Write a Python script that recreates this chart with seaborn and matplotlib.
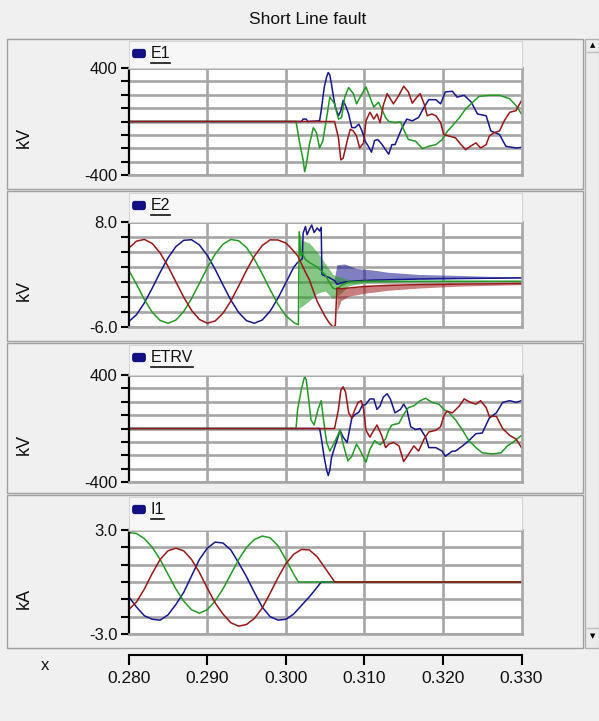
import numpy as np
import pandas as pd
import matplotlib
matplotlib.use("Agg")
import matplotlib.pyplot as plt
import seaborn as sns
from matplotlib.patches import Rectangle, FancyBboxPatch
from matplotlib.lines import Line2D

plt.rcParams['font.family'] = ['Liberation Sans', 'DejaVu Sans']

# ---------------- data ----------------
title = "Short Line fault"
x_ticks = [0.280, 0.290, 0.300, 0.310, 0.320, 0.330]
x_tick_labels = ["0.280", "0.290", "0.300", "0.310", "0.320", "0.330"]
panel_names = ["E1", "E2", "ETRV", "I1"]
panel_units = ["kV", "kV", "kV", "kA"]

pre_t = [0.280, 0.281, 0.282, 0.283, 0.284, 0.285, 0.286, 0.287, 0.288, 0.289, 0.290,
         0.291, 0.292, 0.293, 0.294, 0.295, 0.296, 0.297, 0.298, 0.299, 0.300]

# ---- E1 (kV)
e1_blue_t = [0.280, 0.3020, 0.3022, 0.3026, 0.3028, 0.3043, 0.3045, 0.3049, 0.3052, 0.3054, 0.3056,
             0.3058, 0.3060, 0.3063, 0.3067, 0.3070, 0.3073, 0.3076, 0.3080, 0.3084, 0.3088, 0.3093,
             0.3097, 0.3101, 0.3105, 0.3109, 0.3113, 0.3117, 0.3122, 0.3127, 0.3131, 0.3135, 0.3139,
             0.3148, 0.3154, 0.3161, 0.3169, 0.3176, 0.3182, 0.3191, 0.3197, 0.3203, 0.3212, 0.3218,
             0.3227, 0.3236, 0.3244, 0.3255, 0.3261, 0.3272, 0.3280, 0.3293, 0.3300]
e1_blue_v = [0, 0, 18, 18, 0, 5, 81, 259, 335, 366, 348,
             284, 208, 107, 43, 81, 157, 119, 56, -46, -46, -20,
             -71, -147, -185, -229, -142, -135, -168, -211, -244, -173, -173,
             -46, 18, 5, 30, 107, 163, 163, 132, 221, 226, 183,
             196, 145, 56, 43, -71, -97, -185, -198, -193]
e1_green_t = [0.280, 0.3013, 0.3018, 0.3022, 0.3024, 0.3026, 0.3030, 0.3035, 0.3039, 0.3043, 0.3047,
              0.3052, 0.3056, 0.3062, 0.3067, 0.3071, 0.3075, 0.3080, 0.3086, 0.3090, 0.3097, 0.3102,
              0.3107, 0.3112, 0.3118, 0.3122, 0.3127, 0.3131, 0.3139, 0.3146, 0.3152, 0.3156, 0.3165,
              0.3174, 0.3182, 0.3191, 0.3199, 0.3206, 0.3212, 0.3221, 0.3229, 0.3238, 0.3246, 0.3259,
              0.3272, 0.3285, 0.3293, 0.3300]
e1_green_v = [0, 0, -173, -287, -376, -325, -173, -46, -84, -198, -147,
              30, 183, 132, 18, 30, 183, 254, 208, 132, 208, 259,
              183, 107, 145, 94, 30, 0, -8, -3, -84, -135, -147,
              -203, -185, -173, -135, -71, -33, 30, 94, 145, 188, 196,
              196, 170, 119, 56]
e1_red_t = [0.280, 0.3062, 0.3067, 0.3070, 0.3073, 0.3078, 0.3082, 0.3086, 0.3090, 0.3094, 0.3099,
            0.3102, 0.3107, 0.3112, 0.3116, 0.3120, 0.3124, 0.3129, 0.3133, 0.3137, 0.3144, 0.3150,
            0.3156, 0.3161, 0.3167, 0.3171, 0.3176, 0.3180, 0.3186, 0.3191, 0.3197, 0.3201, 0.3208,
            0.3216, 0.3223, 0.3229, 0.3235, 0.3242, 0.3248, 0.3255, 0.3259, 0.3265, 0.3272, 0.3278,
            0.3285, 0.3293, 0.3300]
e1_red_v = [0, 0, -122, -287, -274, -147, -58, -71, -109, -198, -160,
            5, 69, 18, 56, -8, 119, 208, 170, 132, 196, 264,
            221, 137, 183, 208, 132, 43, 56, 43, -8, -97, -109,
            -122, -173, -211, -185, -160, -198, -173, -109, -84, -71, 5,
            69, 81, 157]

# ---- E2 (kV)
e2_blue_t = pre_t + [0.301, 0.3015, 0.3021, 0.3022, 0.3025, 0.3027, 0.3030, 0.3033, 0.3036, 0.3040,
                     0.3043, 0.3045, 0.3046, 0.3050, 0.3055, 0.3060, 0.3062, 0.3065, 0.3075, 0.3090,
                     0.3110, 0.3130, 0.3170, 0.3210, 0.3260, 0.3300]
e2_blue_v = [-5.29, -4.35, -2.78, -0.81, 1.28, 3.21, 4.71, 5.56, 5.64, 4.94, 3.56,
             1.70, -0.39, -2.41, -4.07, -5.16, -5.5, -5.06, -3.89, -2.16, -0.11] + \
            [1.96, 2.6, 3.1, 6.5, 7.4, 6.3, 7.0, 7.6, 6.6, 7.2,
             6.8, 7.3, 1.0, 0.8, 0.6, 0.3, 0.2, -0.3, 0.0, 0.15,
             0.25, 0.3, 0.4, 0.45, 0.5, 0.55]
e2_green_t = pre_t + [0.301, 0.3016, 0.3017, 0.3019, 0.3020, 0.3025, 0.3030, 0.3040, 0.3050, 0.3055,
                      0.3060, 0.3065, 0.3070, 0.3080, 0.3100, 0.3200, 0.3300]
e2_green_v = [1.6, -0.32, -2.35, -4.03, -5.13, -5.5, -5.08, -3.93, -2.22, -0.18, 1.9,
              3.72, 5.04, 5.67, 5.5, 4.59, 3.04, 1.08, -1.02, -2.96, -4.5] + \
             [-5.4, -5.7, 6.7, 3.5, 4.0, 3.0, 2.6, 2.0, 1.0, 0.0,
              -0.8, -1.0, -0.5, 0.0, 0.1, 0.1, 0.1]
e2_red_t = pre_t + [0.3005, 0.301, 0.3015, 0.302, 0.3025, 0.303, 0.3035, 0.304, 0.3045, 0.305,
                    0.3055, 0.306, 0.3063, 0.3065, 0.307, 0.308, 0.310, 0.313, 0.317, 0.322,
                    0.326, 0.330]
e2_red_v = [4.5, 5.45, 5.68, 5.13, 3.88, 2.1, 0.03, -2.02, -3.78, -5.0, -5.49,
            -5.2, -4.17, -2.54, -0.53, 1.56, 3.45, 4.87, 5.62, 5.6, 5.2] + \
           [4.7, 4.1, 3.5, 2.4, 1.3, 0.3, -1.2, -2.6, -3.6, -4.6,
            -5.4, -6.0, -5.8, -0.8, -0.9, -0.8, -0.6, -0.45, -0.35, -0.28,
            -0.25, -0.2]
# high-frequency ringing envelopes after the fault
e2_blue_band_t = [0.3062, 0.3065, 0.3075, 0.309, 0.311, 0.313, 0.317, 0.321, 0.326, 0.330]
e2_blue_band_hi = [0.5, 2.3, 2.4, 1.8, 1.6, 1.3, 1.0, 0.9, 0.75, 0.7]
e2_blue_band_lo = [0.2, -0.3, 0.0, 0.15, 0.25, 0.3, 0.4, 0.45, 0.5, 0.55]
e2_green_band_t = [0.3017, 0.302, 0.303, 0.304, 0.305, 0.306, 0.307, 0.308, 0.310, 0.315, 0.330]
e2_green_band_hi = [6.7, 5.6, 5.2, 4.0, 2.5, 1.0, 0.6, 0.35, 0.25, 0.2, 0.15]
e2_green_band_lo = [-3.5, -3.3, -2.5, -1.5, -1.2, -2.2, -1.5, -0.5, -0.1, 0.0, 0.05]
e2_red_band_t = [0.3065, 0.307, 0.308, 0.310, 0.313, 0.317, 0.322, 0.326, 0.330]
e2_red_band_hi = [-0.8, -0.9, -0.8, -0.6, -0.45, -0.35, -0.28, -0.25, -0.2]
e2_red_band_lo = [-4.0, -2.5, -1.9, -1.5, -1.1, -0.8, -0.55, -0.45, -0.35]

# ---- ETRV (kV)
etrv_blue_t = [0.280, 0.3043, 0.3045, 0.3049, 0.3052, 0.3054, 0.3056, 0.3058, 0.3062, 0.3065, 0.3069,
               0.3073, 0.3078, 0.3084, 0.3088, 0.3093, 0.3097, 0.3102, 0.3107, 0.3112, 0.3116, 0.3120,
               0.3124, 0.3129, 0.3133, 0.3139, 0.3146, 0.3150, 0.3154, 0.3159, 0.3165, 0.3171, 0.3178,
               0.3182, 0.3191, 0.3199, 0.3203, 0.3212, 0.3216, 0.3225, 0.3233, 0.3242, 0.3250, 0.3259,
               0.3268, 0.3276, 0.3285, 0.3293, 0.3300]
etrv_blue_v = [0, 0, -65, -221, -312, -351, -312, -221, -143, -91, -13,
               -65, -104, 78, 104, 122, 169, 182, 221, 221, 143, 169,
               234, 260, 221, 117, 143, 182, 143, 13, -8, 0, -65,
               -143, -143, -169, -208, -169, -169, -130, -91, -39, -34, 78,
               117, 195, 208, 195, 208]
etrv_green_t = [0.280, 0.3013, 0.3015, 0.3020, 0.3024, 0.3026, 0.3029, 0.3032, 0.3036, 0.3041, 0.3045,
                0.3048, 0.3052, 0.3056, 0.3062, 0.3069, 0.3073, 0.3079, 0.3084, 0.3090, 0.3094, 0.3102,
                0.3107, 0.3113, 0.3120, 0.3127, 0.3131, 0.3135, 0.3144, 0.3150, 0.3156, 0.3163, 0.3171,
                0.3178, 0.3186, 0.3195, 0.3201, 0.3208, 0.3216, 0.3225, 0.3233, 0.3242, 0.3250, 0.3263,
                0.3274, 0.3282, 0.3289, 0.3297, 0.3300]
etrv_green_v = [0, 0, 143, 299, 390, 364, 221, 65, 26, 143, 208,
                65, -104, -169, -104, -13, -117, -242, -208, -117, -156, -252,
                -156, -91, -122, -78, -13, 26, 39, 104, 156, 169, 208,
                226, 195, 182, 143, 117, 65, -13, -91, -143, -182, -190,
                -182, -130, -104, -65, -52]
etrv_red_t = [0.280, 0.3062, 0.3067, 0.3070, 0.3073, 0.3076, 0.3080, 0.3084, 0.3088, 0.3092, 0.3096,
              0.3099, 0.3102, 0.3107, 0.3112, 0.3116, 0.3122, 0.3127, 0.3131, 0.3137, 0.3144, 0.3150,
              0.3156, 0.3163, 0.3169, 0.3176, 0.3182, 0.3191, 0.3197, 0.3201, 0.3205, 0.3212, 0.3221,
              0.3227, 0.3235, 0.3242, 0.3248, 0.3255, 0.3259, 0.3268, 0.3276, 0.3285, 0.3293, 0.3300]
etrv_red_v = [0, 0, 143, 286, 312, 273, 117, 78, 143, 195, 208,
              143, -13, -65, -13, 26, -52, -143, -117, -104, -130, -247,
              -195, -130, -169, -78, -26, -13, 13, 91, 130, 117, 169,
              221, 195, 182, 208, 156, 91, 91, 0, -52, -78, -143]

# ---- I1 (kA)
i1_blue_t = pre_t + [0.301, 0.302, 0.303, 0.304, 0.3045, 0.330]
i1_blue_v = [-0.85, -1.45, -1.95, -2.15, -2.2, -1.9, -1.3, -0.6, 0.35, 1.3, 1.95,
             2.3, 2.25, 1.85, 1.1, 0.3, -0.6, -1.45, -2.0, -2.2, -2.15] + \
            [-1.85, -1.35, -0.85, -0.3, 0.0, 0.0]
i1_green_t = pre_t + [0.301, 0.3016, 0.330]
i1_green_v = [2.85, 2.8, 2.5, 2.0, 1.3, 0.45, -0.4, -1.1, -1.6, -1.8, -1.6,
              -1.1, -0.4, 0.45, 1.3, 2.0, 2.45, 2.65, 2.55, 2.1, 1.3] + \
             [0.45, 0.0, 0.0]
i1_red_t = pre_t + [0.301, 0.302, 0.303, 0.304, 0.305, 0.306, 0.3062, 0.330]
i1_red_v = [-1.6, -1.15, -0.4, 0.5, 1.3, 1.8, 1.95, 1.8, 1.3, 0.55, -0.35,
            -1.2, -1.85, -2.35, -2.55, -2.45, -2.1, -1.5, -0.65, 0.25, 1.05] + \
           [1.6, 1.88, 1.85, 1.45, 0.8, 0.15, 0.0, 0.0]

# ---------------- styling / layout ----------------
W, H = 599, 721
BG = "#f0f0f0"
GRID = "#a6a6a6"
pal = {"A": "#16168f", "B": "#239a23", "C": "#9a1616"}


def frac_rect(x0, y0, x1, y1):
    return [x0 / W, 1 - y1 / H, (x1 - x0) / W, (y1 - y0) / H]


def long_df(series):
    frames = []
    for ph, t, v in series:
        frames.append(pd.DataFrame({"t": t, "v": v, "phase": ph}))
    return pd.concat(frames, ignore_index=True)


fig = plt.figure(figsize=(W / 100, H / 100), dpi=100, facecolor=BG)

# title
fig.text(308 / W, 1 - 20 / H, title, ha="center", va="center", fontsize=12.5, color="#111111")

# panel boxes
panel_boxes = [(39, 189), (191, 341), (343, 493), (495, 648)]
for (y0, y1) in panel_boxes:
    fig.add_artist(Rectangle((7 / W, 1 - y1 / H), (583 - 7) / W, (y1 - y0) / H,
                             transform=fig.transFigure, facecolor=BG, edgecolor="#a0a0a0",
                             lw=1.0, zorder=0))
# scrollbar
fig.add_artist(Rectangle((585 / W, 1 - 648 / H), 14 / W, (648 - 39) / H, transform=fig.transFigure,
                         facecolor="#ececec", edgecolor="#b0b0b0", lw=1.0, zorder=0))
fig.add_artist(Line2D([585 / W, 599 / W], [1 - 52 / H, 1 - 52 / H], transform=fig.transFigure,
                      color="#c0c0c0", lw=1))
fig.add_artist(Line2D([585 / W, 599 / W], [1 - 628 / H, 1 - 628 / H], transform=fig.transFigure,
                      color="#c0c0c0", lw=1))
fig.text(592.5 / W, 1 - 45 / H, "▲", ha="center", va="center", fontsize=5, family="DejaVu Sans")
fig.text(592.5 / W, 1 - 636 / H, "▼", ha="center", va="center", fontsize=5, family="DejaVu Sans")

PX0, PX1 = 128.7, 521.5
plot_rows = [(68, 175), (222, 327), (375, 482), (530, 634)]
ylims = [(-400, 400, 100, "{:.0f}"), (-6.0, 8.0, 2.0, "{:.1f}"),
         (-400, 400, 100, "{:.0f}"), (-3.0, 3.0, 1.0, "{:.1f}")]

panel_series = [
    [("A", e1_blue_t, e1_blue_v), ("B", e1_green_t, e1_green_v), ("C", e1_red_t, e1_red_v)],
    [("A", e2_blue_t, e2_blue_v), ("B", e2_green_t, e2_green_v), ("C", e2_red_t, e2_red_v)],
    [("A", etrv_blue_t, etrv_blue_v), ("B", etrv_green_t, etrv_green_v), ("C", etrv_red_t, etrv_red_v)],
    [("A", i1_blue_t, i1_blue_v), ("B", i1_green_t, i1_green_v), ("C", i1_red_t, i1_red_v)],
]

fig.canvas.draw()
renderer = fig.canvas.get_renderer()

for i, ((top, bot), (lo, hi, step, fmt)) in enumerate(zip(plot_rows, ylims)):
    # legend tab above the plot
    ptop = panel_boxes[i][0] + 2
    fig.add_artist(Rectangle((PX0 / W, 1 - top / H), (PX1 - PX0) / W, (top - ptop) / H,
                             transform=fig.transFigure, facecolor="#f7f7f7", edgecolor="#d4d4d4",
                             lw=0.8, zorder=0.5))
    ax = fig.add_axes(frac_rect(PX0, top, PX1, bot))
    ax.set_facecolor("white")
    df = long_df(panel_series[i])
    sns.lineplot(data=df, x="t", y="v", hue="phase", palette=pal, hue_order=["A", "B", "C"],
                 estimator=None, sort=False, legend=False, linewidth=1.1, ax=ax)
    if i == 1:
        for ph, bt, bhi, blo in [("A", e2_blue_band_t, e2_blue_band_hi, e2_blue_band_lo),
                                 ("B", e2_green_band_t, e2_green_band_hi, e2_green_band_lo),
                                 ("C", e2_red_band_t, e2_red_band_hi, e2_red_band_lo)]:
            ax.fill_between(bt, blo, bhi, color=pal[ph], alpha=0.55, lw=0)
    ax.set_xlim(x_ticks[0], x_ticks[-1])
    ax.set_ylim(lo, hi)
    ax.set_xticks(x_ticks[1:-1])
    ax.tick_params(axis="x", length=0, labelbottom=False)
    yt = np.arange(lo, hi + step / 2, step)
    ax.set_yticks(yt)
    ax.set_yticklabels([fmt.format(v) if (abs(v - lo) < 1e-9 or abs(v - hi) < 1e-9) else "" for v in yt])
    ax.tick_params(axis="y", direction="out", length=6, width=1.5, color="black",
                   labelsize=12, pad=2, labelcolor="#111111")
    ax.grid(True, color=GRID, lw=1.9)
    ax.set_axisbelow(True)
    for s in ["top", "right", "bottom"]:
        ax.spines[s].set_color(GRID)
        ax.spines[s].set_linewidth(1.9)
    ax.spines["left"].set_color("black")
    ax.spines["left"].set_linewidth(1.6)
    ax.set_xlabel("")
    ax.set_ylabel("")

    # unit label
    fig.text(24 / W, 1 - ((top + bot) / 2 + 16) / H, panel_units[i], rotation=90,
             ha="center", va="center", fontsize=13, color="#111111")
    # legend entry
    ly = panel_boxes[i][0] + 14
    fig.add_artist(FancyBboxPatch((134 / W, 1 - (ly + 3) / H), 10 / W, 5 / H,
                                  boxstyle="round,pad=0.002,rounding_size=0.003",
                                  transform=fig.transFigure, facecolor="#101080", edgecolor="#101080"))
    txt = fig.text(151 / W, 1 - ly / H, panel_names[i], ha="left", va="center", fontsize=11.5,
                   color="#111111")
    bb = txt.get_window_extent(renderer)
    fig.add_artist(Line2D([bb.x0 / W, bb.x1 / W], [1 - (ly + 9.5) / H, 1 - (ly + 9.5) / H],
                          transform=fig.transFigure, color="#111111", lw=1.2))

# bottom x axis
axb = fig.add_axes([PX0 / W, 1 - 654.5 / H, (PX1 - PX0) / W, 0.001])
axb.patch.set_alpha(0)
axb.set_xlim(x_ticks[0], x_ticks[-1])
axb.set_yticks([])
for s in ["top", "left", "right"]:
    axb.spines[s].set_visible(False)
axb.spines["bottom"].set_linewidth(1.5)
axb.set_xticks(x_ticks)
axb.set_xticklabels(x_tick_labels)
axb.tick_params(axis="x", direction="out", length=7, width=1.5, labelsize=12.5, pad=5,
                labelcolor="#111111")
fig.text(45 / W, 1 - 666 / H, "x", ha="center", va="center", fontsize=12, color="#111111")

fig.savefig("out.png", dpi=100, facecolor=BG)
